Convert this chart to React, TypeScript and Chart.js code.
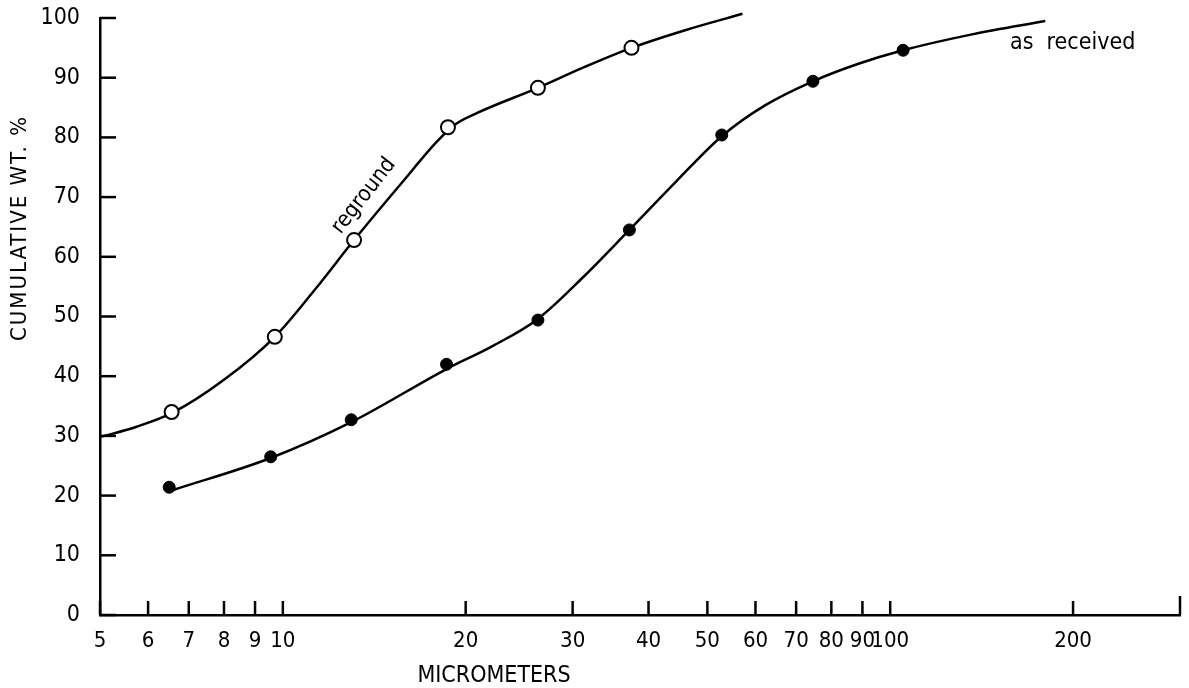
import React, { useEffect, useRef } from 'react';
import { Chart, registerables } from 'chart.js';

Chart.register(...registerables);

// ---- data ----
const xTickValues = [5, 6, 7, 8, 9, 10, 20, 30, 40, 50, 60, 70, 80, 90, 100, 200, 300];
const xTickLabels = ['5', '6', '7', '8', '9', '10', '20', '30', '40', '50', '60', '70', '80', '90', '100', '200', ''];
const yTickValues = [0, 10, 20, 30, 40, 50, 60, 70, 80, 90, 100];

// measured points
const regroundX = [6.56, 9.7, 13.1, 18.7, 26.3, 37.5];
const regroundY = [34.0, 46.6, 62.8, 81.7, 88.3, 95.0];
const receivedX = [6.5, 9.55, 12.96, 18.6, 26.3, 37.2, 52.8, 74.6, 105];
const receivedY = [21.4, 26.5, 32.7, 42.0, 49.4, 64.5, 80.4, 89.4, 94.6];

// smooth hand-drawn curves
const regroundCurveX = [5, 5.73, 6.56, 8.0, 9.7, 11.27, 13.1, 15.7, 17.98, 19.24, 20.9, 26.3, 31.4, 37.5, 46.1, 57.1];
const regroundCurveY = [29.8, 31.5, 33.8, 39.4, 46.6, 54.4, 62.8, 72.4, 79.4, 82.2, 84.1, 88.3, 91.8, 95.0, 98.0, 100.7];
const receivedCurveX = [6.58, 9.55, 12.96, 18.6, 22.1, 26.3, 31.3, 37.2, 44.4, 52.8, 62.3, 74.6, 88.4, 105, 137, 180];
const receivedCurveY = [20.9, 26.3, 32.3, 41.2, 45.0, 49.6, 56.7, 64.5, 72.6, 80.2, 85.4, 89.4, 92.3, 94.6, 97.3, 99.5];

const xTitle = 'MICROMETERS';
const yTitle = 'CUMULATIVE WT. %';
const regroundLabel = 'reground';
const receivedLabel = 'as  received';

const FONT = '"DejaVu Sans Condensed", "Liberation Sans Narrow", "DejaVu Sans", sans-serif';

const toXY = (xs: number[], ys: number[]) => xs.map((x, i) => ({ x, y: ys[i] }));

const decorPlugin = {
  id: 'decor',
  afterDraw(chart: any) {
    const ctx = chart.ctx;
    const xs = chart.scales.x;
    const ys = chart.scales.y;
    const area = chart.chartArea;
    ctx.save();
    ctx.strokeStyle = '#000';
    ctx.lineWidth = 2.5;
    ctx.lineCap = 'butt';
    // inward x ticks
    xTickValues.forEach((v, i) => {
      const px = xs.getPixelForValue(v);
      const len = i === xTickValues.length - 1 ? 19 : 14;
      ctx.beginPath();
      ctx.moveTo(px, area.bottom);
      ctx.lineTo(px, area.bottom - len);
      ctx.stroke();
    });
    // inward y ticks
    yTickValues.forEach((v) => {
      const py = ys.getPixelForValue(v);
      ctx.beginPath();
      ctx.moveTo(area.left, py);
      ctx.lineTo(area.left + 16, py);
      ctx.stroke();
    });
    // axis titles
    ctx.fillStyle = '#000';
    ctx.textAlign = 'center';
    ctx.textBaseline = 'middle';
    ctx.font = `23px ${FONT}`;
    ctx.fillText(xTitle, 494, 676);
    ctx.save();
    ctx.translate(20, 228);
    ctx.rotate(-Math.PI / 2);
    ctx.font = `22px ${FONT}`;
    (ctx as any).letterSpacing = '2px';
    ctx.fillText(yTitle, 0, 0);
    ctx.restore();
    // curve labels
    ctx.font = `22px ${FONT}`;
    ctx.save();
    ctx.translate(xs.getPixelForValue(13.6), ys.getPixelForValue(70.2));
    ctx.rotate(-52 * Math.PI / 180);
    ctx.fillText(regroundLabel, 0, 0);
    ctx.restore();
    ctx.textAlign = 'left';
    ctx.textBaseline = 'alphabetic';
    ctx.font = `23px ${FONT}`;
    ctx.fillText(receivedLabel, 1010, 49);
    ctx.restore();
  },
};

export default function App() {
  const ref = useRef<HTMLCanvasElement | null>(null);
  useEffect(() => {
    if (!ref.current) return;
    const chart = new Chart(ref.current, {
      type: 'scatter',
      data: {
        datasets: [
          {
            label: 'reground points',
            data: toXY(regroundX, regroundY),
            pointRadius: 7,
            pointBackgroundColor: '#fff',
            pointBorderColor: '#000',
            pointBorderWidth: 2,
            showLine: false,
            order: 0,
          },
          {
            label: 'as received points',
            data: toXY(receivedX, receivedY),
            pointRadius: 6,
            pointBackgroundColor: '#000',
            pointBorderColor: '#000',
            pointBorderWidth: 1,
            showLine: false,
            order: 0,
          },
          {
            label: 'reground curve',
            data: toXY(regroundCurveX, regroundCurveY),
            showLine: true,
            borderColor: '#000',
            borderWidth: 2.5,
            pointRadius: 0,
            cubicInterpolationMode: 'monotone',
            clip: false as any,
            order: 1,
          },
          {
            label: 'as received curve',
            data: toXY(receivedCurveX, receivedCurveY),
            showLine: true,
            borderColor: '#000',
            borderWidth: 2.5,
            pointRadius: 0,
            cubicInterpolationMode: 'monotone',
            clip: false as any,
            order: 1,
          },
        ] as any,
      },
      options: {
        responsive: false,
        animation: false,
        events: [],
        layout: { padding: { top: 18, right: 5, left: 0, bottom: 0 } },
        plugins: {
          legend: { display: false },
          tooltip: { enabled: false },
        },
        scales: {
          x: {
            type: 'logarithmic',
            min: 5,
            max: 300,
            grid: { display: false, drawTicks: true, tickLength: 13 },
            border: { display: true, color: '#000', width: 2.5 },
            afterBuildTicks: (scale: any) => {
              scale.ticks = xTickValues.map((v) => ({ value: v }));
            },
            afterFit: (scale: any) => {
              scale.height = 73;
              scale.paddingRight = 0;
            },
            ticks: {
              autoSkip: false,
              maxRotation: 0,
              minRotation: 0,
              padding: 0,
              color: '#000',
              font: { family: FONT, size: 22 },
              callback: (value: any) => {
                const i = xTickValues.indexOf(Number(value));
                return i >= 0 ? xTickLabels[i] : '';
              },
            },
          },
          y: {
            type: 'linear',
            min: 0,
            max: 100,
            grid: { display: false, drawTicks: true, tickLength: 20 },
            border: { display: true, color: '#000', width: 2.5 },
            afterBuildTicks: (scale: any) => {
              scale.ticks = yTickValues.map((v) => ({ value: v }));
            },
            afterFit: (scale: any) => {
              scale.width = 100;
            },
            ticks: {
              padding: 0,
              color: '#000',
              font: { family: FONT, size: 23 },
            },
          },
        },
      } as any,
      plugins: [decorPlugin],
    });
    return () => chart.destroy();
  }, []);
  return (
    <div style={{ position: 'absolute', left: 0, top: 0, width: 1189, height: 688, background: '#fff' }}>
      <canvas ref={ref} width={1189} height={688} style={{ display: 'block' }} />
    </div>
  );
}
